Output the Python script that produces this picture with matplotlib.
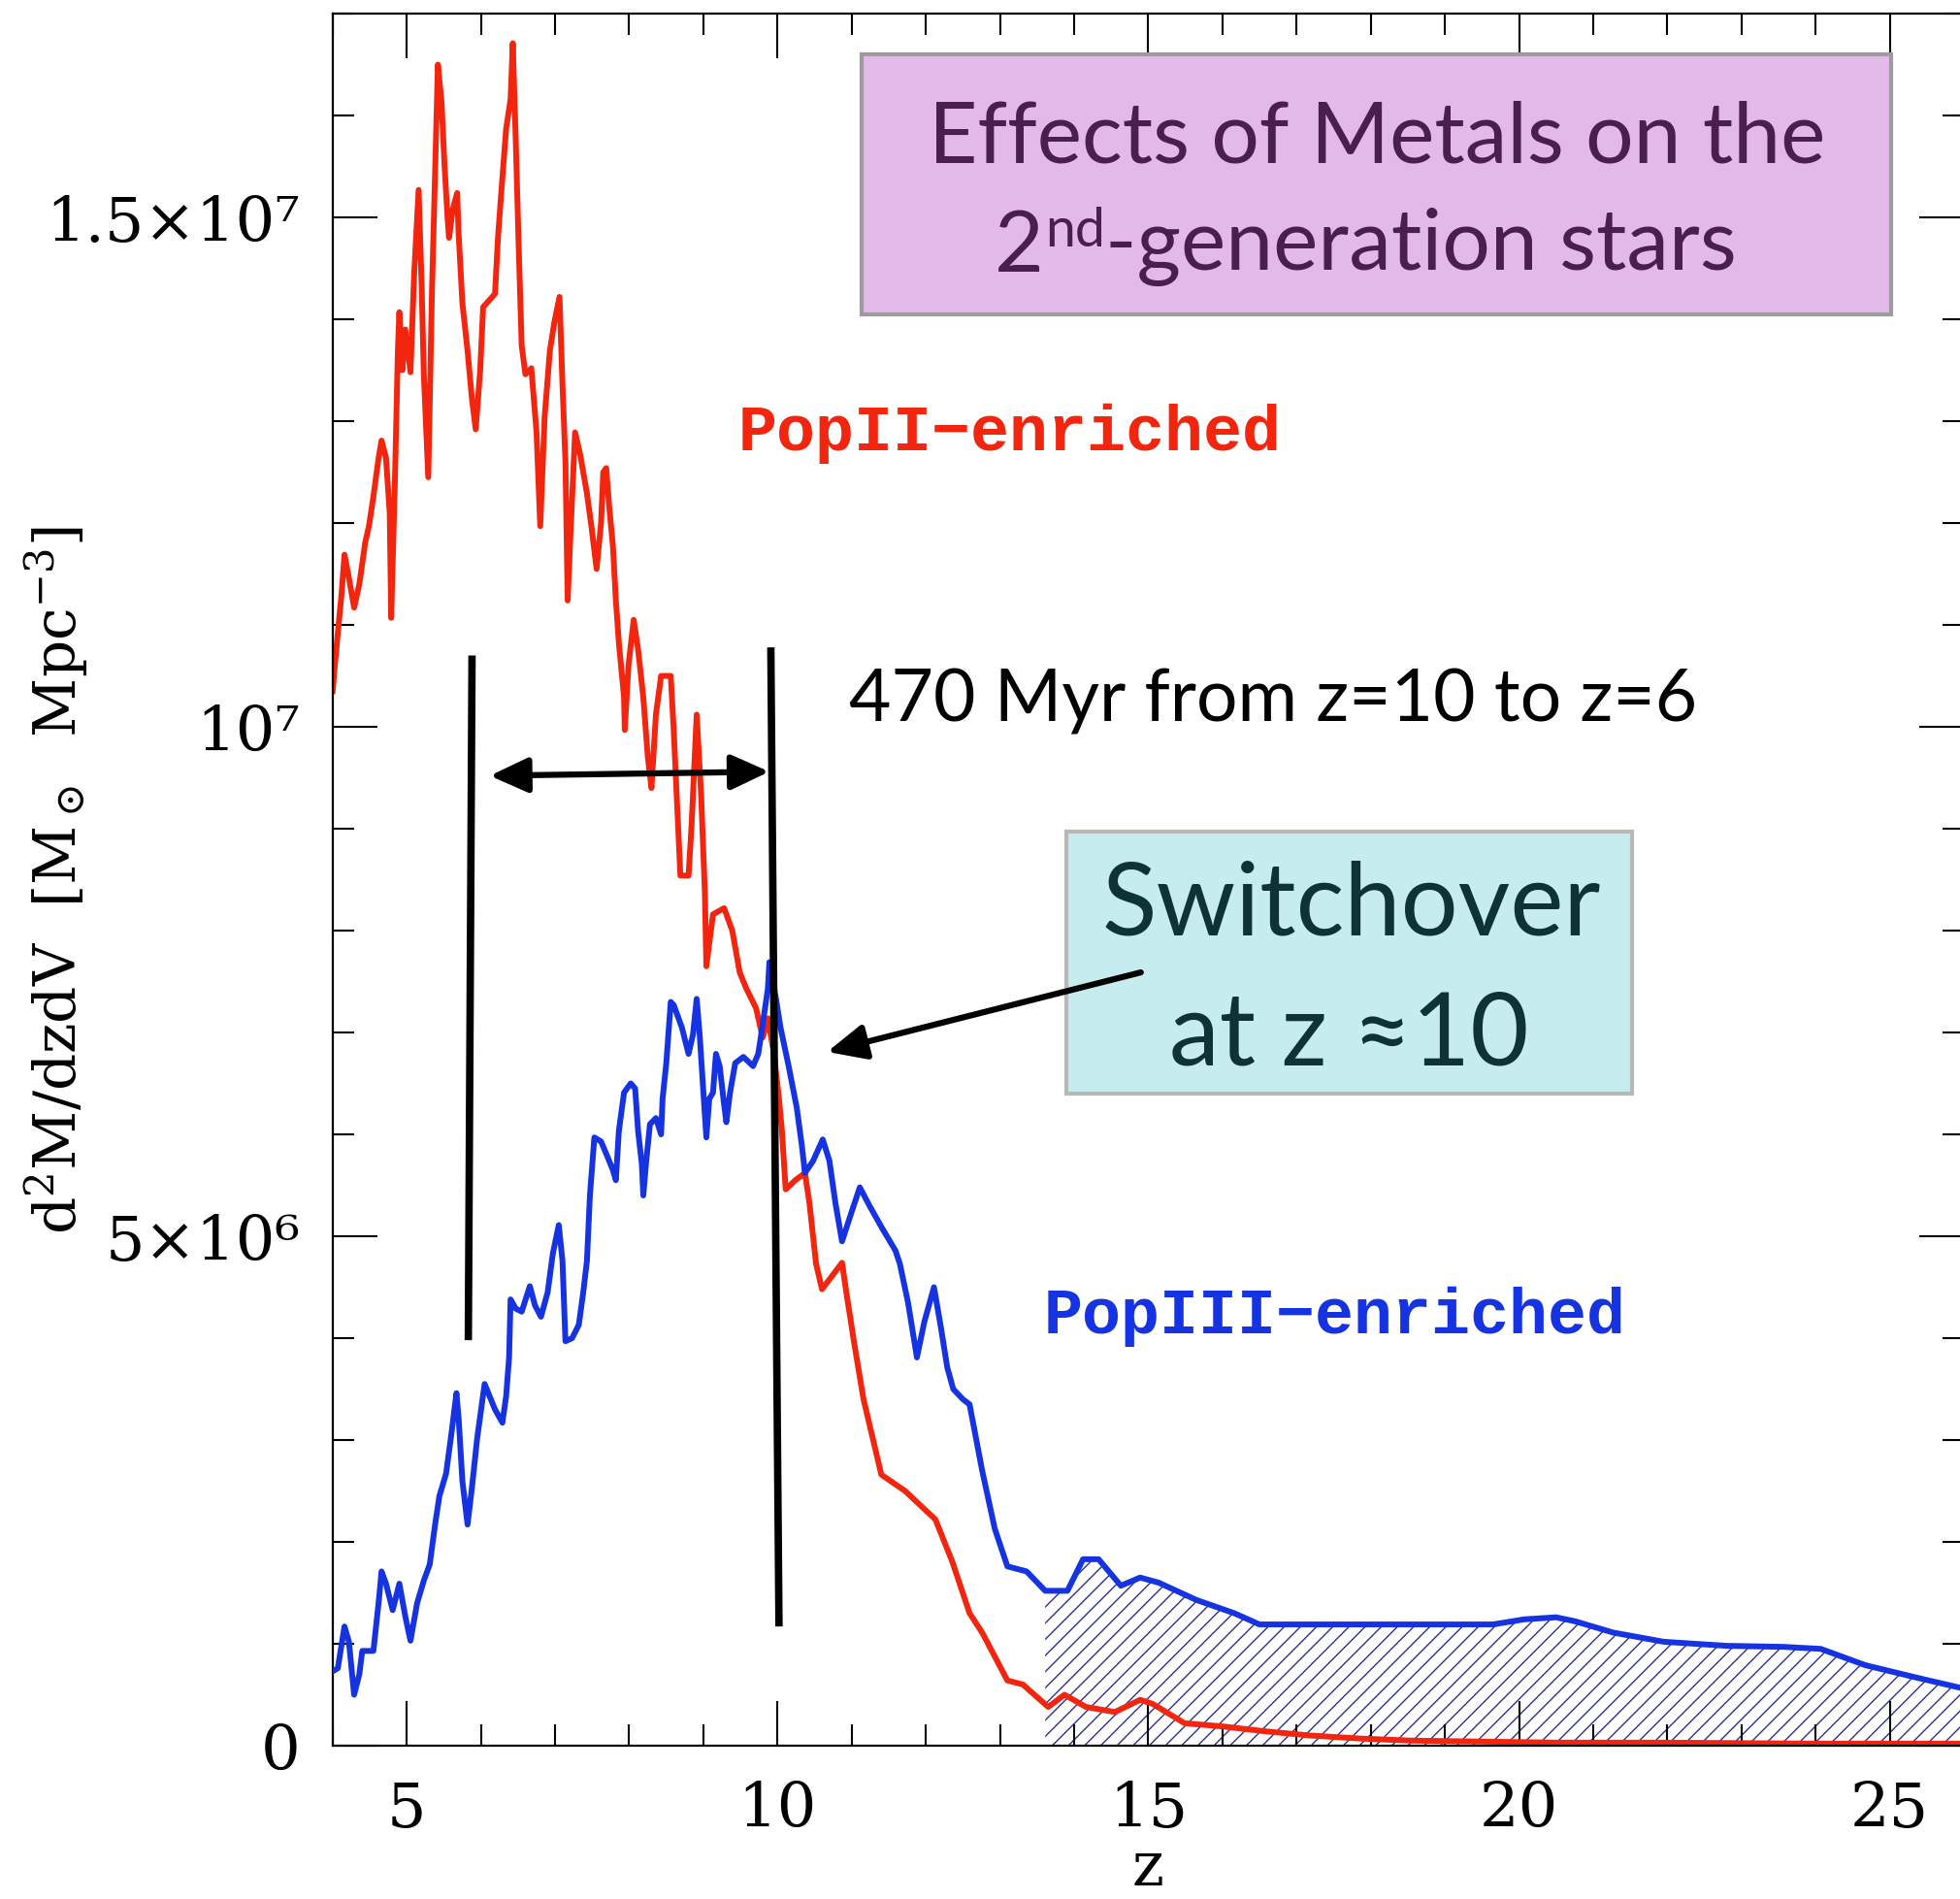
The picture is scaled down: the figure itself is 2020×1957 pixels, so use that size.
import numpy as np
import matplotlib
matplotlib.use("Agg")
import matplotlib.pyplot as plt
from matplotlib.patches import Rectangle
from matplotlib.ticker import FixedLocator, FixedFormatter, MultipleLocator

# star formation rate density per redshift, units of 1e6 Msun/Mpc^3
z_pop2 = [4.00, 4.03, 4.07, 4.12, 4.16, 4.22, 4.29, 4.36, 4.44, 4.49, 4.55, 4.62, 4.66, 4.72,
          4.77, 4.79, 4.84, 4.88, 4.90, 4.94, 4.98, 5.05, 5.10, 5.16, 5.20, 5.23, 5.29, 5.34,
          5.38, 5.42, 5.47, 5.51, 5.55, 5.57, 5.62, 5.68, 5.70, 5.75, 5.82, 5.88, 5.93, 5.99,
          6.03, 6.19, 6.23, 6.27, 6.34, 6.40, 6.43, 6.47, 6.51, 6.55, 6.60, 6.68, 6.75, 6.80,
          6.86, 6.93, 6.99, 7.06, 7.10, 7.14, 7.17, 7.21, 7.27, 7.34, 7.43, 7.49, 7.56, 7.62,
          7.65, 7.69, 7.73, 7.78, 7.82, 7.86, 7.93, 7.94, 7.99, 8.06, 8.12, 8.19, 8.25, 8.30,
          8.36, 8.43, 8.56, 8.60, 8.64, 8.69, 8.80, 8.84, 8.91, 8.97, 9.02, 9.04, 9.13, 9.28,
          9.39, 9.49, 9.58, 9.71, 9.80, 9.87, 9.95, 10.02, 10.06, 10.11, 10.24, 10.37, 10.43,
          10.52, 10.60, 10.87, 10.93, 11.03, 11.16, 11.40, 11.72, 12.13, 12.36, 12.59, 12.76,
          13.10, 13.31, 13.65, 13.87, 14.16, 14.55, 14.89, 15.06, 15.49, 15.99, 16.59, 17.18,
          17.86, 18.54, 19.50, 20.50, 22.00, 24.00, 26.00]
sfr_pop2 = [10.35, 10.60, 10.92, 11.30, 11.69, 11.46, 11.17, 11.40, 11.81, 11.97, 12.26, 12.64,
            12.81, 12.64, 12.10, 11.07, 12.41, 13.69, 14.07, 13.50, 13.90, 13.48, 14.45, 15.27,
            14.35, 13.46, 12.45, 14.28, 15.40, 16.50, 16.12, 15.50, 15.00, 14.80, 15.08, 15.24,
            14.83, 14.16, 13.69, 13.21, 12.92, 13.50, 14.12, 14.25, 14.80, 15.20, 15.87, 16.16,
            16.71, 15.75, 14.70, 13.74, 13.46, 13.52, 12.89, 11.97, 13.05, 13.69, 13.97, 14.22,
            13.36, 12.60, 11.24, 11.93, 12.89, 12.67, 12.29, 11.97, 11.55, 12.00, 12.50, 12.54,
            12.16, 11.78, 11.24, 10.83, 10.29, 9.97, 10.60, 11.05, 10.76, 10.29, 9.71, 9.40,
            10.12, 10.50, 10.50, 9.97, 9.33, 8.54, 8.54, 9.02, 10.12, 9.33, 8.38, 7.65, 8.16,
            8.22, 8.00, 7.59, 7.43, 7.24, 6.95, 7.14, 6.80, 6.35, 6.03, 5.46, 5.55, 5.62, 5.33,
            4.73, 4.48, 4.74, 4.44, 3.97, 3.40, 2.66, 2.50, 2.22, 1.80, 1.30, 1.11, 0.64, 0.60,
            0.38, 0.50, 0.38, 0.33, 0.45, 0.41, 0.22, 0.19, 0.14, 0.10, 0.07, 0.05, 0.04, 0.03,
            0.03, 0.02, 0.02]

z_pop3 = [4.00, 4.07, 4.16, 4.22, 4.29, 4.36, 4.40, 4.55, 4.62, 4.66, 4.72, 4.81, 4.90, 4.98,
          5.05, 5.14, 5.23, 5.31, 5.38, 5.44, 5.53, 5.60, 5.67, 5.70, 5.75, 5.82, 5.88, 5.95,
          6.05, 6.19, 6.29, 6.34, 6.38, 6.40, 6.47, 6.55, 6.66, 6.73, 6.81, 6.90, 6.97, 7.05,
          7.10, 7.14, 7.23, 7.32, 7.38, 7.43, 7.47, 7.53, 7.62, 7.69, 7.78, 7.82, 7.86, 7.93,
          8.02, 8.08, 8.12, 8.17, 8.19, 8.23, 8.28, 8.36, 8.43, 8.45, 8.50, 8.56, 8.60, 8.71,
          8.80, 8.86, 8.91, 8.95, 9.00, 9.04, 9.08, 9.13, 9.17, 9.22, 9.28, 9.31, 9.36, 9.43,
          9.54, 9.67, 9.74, 9.78, 9.87, 9.89, 9.98, 10.04, 10.15, 10.26, 10.33, 10.37, 10.48,
          10.61, 10.70, 10.78, 10.87, 11.00, 11.11, 11.24, 11.41, 11.59, 11.65, 11.76, 11.88,
          11.98, 12.11, 12.20, 12.29, 12.37, 12.50, 12.59, 12.76, 12.93, 13.10, 13.36, 13.61,
          13.91, 14.12, 14.33, 14.63, 14.89, 15.14, 15.65, 16.16, 16.50, 16.84, 19.65, 20.07,
          20.50, 20.76, 21.27, 21.95, 22.80, 23.56, 24.07, 24.67, 25.35, 26.00]
sfr_pop3 = [0.73, 0.76, 1.17, 1.02, 0.50, 0.70, 0.93, 0.93, 1.40, 1.71, 1.59, 1.33, 1.59, 1.27,
            1.03, 1.40, 1.62, 1.78, 2.16, 2.45, 2.67, 3.05, 3.46, 3.21, 2.60, 2.17, 2.54, 3.02,
            3.55, 3.30, 3.17, 3.43, 3.81, 4.38, 4.29, 4.26, 4.51, 4.32, 4.21, 4.45, 4.83, 5.11,
            4.76, 3.97, 4.00, 4.13, 4.45, 4.76, 5.40, 5.97, 5.93, 5.81, 5.65, 5.55, 6.03, 6.41,
            6.50, 6.45, 6.03, 5.71, 5.40, 5.74, 6.10, 6.16, 6.00, 6.35, 6.70, 7.30, 7.27, 7.05,
            6.79, 6.98, 7.33, 6.98, 6.41, 5.97, 6.35, 6.41, 6.79, 6.67, 6.29, 6.12, 6.41, 6.70,
            6.76, 6.67, 6.79, 6.98, 7.43, 7.69, 7.33, 7.05, 6.67, 6.26, 5.88, 5.62, 5.74, 5.95,
            5.74, 5.33, 4.95, 5.24, 5.48, 5.30, 5.08, 4.86, 4.73, 4.35, 3.81, 4.16, 4.50, 4.12,
            3.71, 3.50, 3.40, 3.35, 2.70, 2.13, 1.76, 1.71, 1.52, 1.52, 1.83, 1.83, 1.57, 1.65,
            1.60, 1.43, 1.30, 1.19, 1.19, 1.19, 1.24, 1.26, 1.22, 1.11, 1.02, 0.98, 0.97, 0.95,
            0.79, 0.67, 0.56]

hatch_from_z = 13.6

y_ticks = [0, 5e6, 1e7, 1.5e7]
y_tick_labels = ["0", "5×10⁶", "10⁷", "1.5×10⁷"]
x_ticks = [5, 10, 15, 20, 25]
x_tick_labels = ["5", "10", "15", "20", "25"]

# the 470 Myr window and the switchover pointer (z, value in 1e6)
window_lines = [((5.88, 10.70), (5.83, 3.98)), ((9.91, 10.78), (10.02, 1.17))]
window_arrow = ((6.12, 9.52), (9.89, 9.56))
switch_arrow = ((14.90, 7.59), (10.67, 6.81))

red = "#f2260f"
blue = "#1633e2"
hatch_col = "#2b2f9a"
sans = ["Lato", "DejaVu Sans"]
serif = ["DejaVu Serif"]

plt.rcParams["hatch.linewidth"] = 1.0
plt.rcParams["mathtext.fontset"] = "dejavuserif"

fig = plt.figure(figsize=(20.2, 19.58), dpi=100)
ax = fig.add_axes([0.1697, 0.0807, 0.8323, 0.9116])

z2 = np.array(z_pop2)
s2 = np.array(sfr_pop2) * 1e6
z3 = np.array(z_pop3)
s3 = np.array(sfr_pop3) * 1e6

ax.fill_between(z3, 0, s3, where=z3 >= hatch_from_z, facecolor="none",
                edgecolor=hatch_col, hatch="//", linewidth=0, zorder=1)
ax.plot(z2, s2, color=red, lw=4.3, zorder=2)
ax.plot(z3, s3, color=blue, lw=4.3, zorder=3)

ax.set_xlim(4, 26)
ax.set_ylim(0, 1.7e7)

for sp in ax.spines.values():
    sp.set_linewidth(1.6)

ax.xaxis.set_major_locator(FixedLocator(x_ticks))
ax.xaxis.set_major_formatter(FixedFormatter(x_tick_labels))
ax.xaxis.set_minor_locator(MultipleLocator(1))
ax.yaxis.set_major_locator(FixedLocator(y_ticks))
ax.yaxis.set_major_formatter(FixedFormatter(y_tick_labels))
ax.yaxis.set_minor_locator(MultipleLocator(1e6))
ax.tick_params(which="both", direction="in", top=True, right=True, width=1.5, colors="black")
ax.tick_params(which="major", length=33)
ax.tick_params(which="minor", length=16)
ax.tick_params(axis="x", which="major", pad=25, labelsize=46)
ax.tick_params(axis="y", which="major", pad=24, labelsize=46)
for lab in ax.get_xticklabels() + ax.get_yticklabels():
    lab.set_family(serif)

ax.text(0.5, -0.0874, "z", transform=ax.transAxes, ha="center", va="bottom",
        fontsize=45, family=serif)
ax.text(-0.1694, 0.5, r"d$^2$M/dzdV  [M$_\odot$  Mpc$^{-3}$]", transform=ax.transAxes,
        rotation=90, ha="center", va="center", fontsize=43, family=serif)

# vertical markers and arrows
for (xa, ya), (xb, yb) in window_lines:
    ax.plot([xa, xb], [ya * 1e6, yb * 1e6], color="black", lw=5.5, zorder=5,
            solid_capstyle="butt")
(xa, ya), (xb, yb) = window_arrow
ax.annotate("", xy=(xb, yb * 1e6), xytext=(xa, ya * 1e6),
            arrowprops=dict(arrowstyle="<|-|>,head_length=1.2,head_width=0.55", lw=4.5,
                            color="black", mutation_scale=20, shrinkA=0, shrinkB=0),
            zorder=6)
(xa, ya), (xb, yb) = switch_arrow
ax.annotate("", xy=(xb, yb * 1e6), xytext=(xa, ya * 1e6),
            arrowprops=dict(arrowstyle="-|>,head_length=1.2,head_width=0.55", lw=4.5,
                            color="black", mutation_scale=20, shrinkA=0, shrinkB=0),
            zorder=8)

ax.text(10.97, 10.067e6, "470 Myr from z=10 to z=6", fontsize=54, family=sans,
        ha="left", va="baseline", color="black", zorder=6)

ax.text(13.13, 12.89e6, "PopII−enriched", color=red, fontsize=48, fontweight="bold",
        family=["Liberation Mono", "DejaVu Sans Mono"], ha="center", va="center", zorder=6)
ax.text(17.51, 4.22e6, "PopIII−enriched", color=blue, fontsize=48, fontweight="bold",
        family=["Liberation Mono", "DejaVu Sans Mono"], ha="center", va="center", zorder=6)

# title box
ax.add_patch(Rectangle((11.14, 14.05e6), 25.02 - 11.14, 16.60e6 - 14.05e6,
                       facecolor="#e2b9e8", edgecolor="#9c9c9c", lw=3, zorder=7))
title_col = "#4a1e4e"
ax.text(18.08, 15.552e6, "Effects of Metals on the", color=title_col, fontsize=63,
        family=sans, ha="center", va="baseline", zorder=8)
t1 = ax.text(12.92, 14.476e6, "2", color=title_col, fontsize=63, family=sans,
             ha="left", va="baseline", zorder=8)
t2 = ax.annotate("nd", xy=(1, 1), xycoords=t1, xytext=(1, 2), textcoords="offset points",
                 color=title_col, fontsize=40, family=sans, ha="left", va="top", zorder=8)
ax.annotate("-generation stars", xy=(1, 0), xycoords=(t2, t1), color=title_col,
            fontsize=63, family=sans, ha="left", va="bottom", zorder=8)

# switchover box
ax.add_patch(Rectangle((13.90, 6.40e6), 21.52 - 13.90, 8.971e6 - 6.40e6,
                       facecolor="#c6ecef", edgecolor="#b8b8b8", lw=3, zorder=7))
box_col = "#0e3236"
ax.text(17.74, 7.971e6, "Switchover", color=box_col, fontsize=75, family=sans,
        ha="center", va="baseline", zorder=8)
ax.text(17.71, 6.686e6, "at z ≈10", color=box_col, fontsize=75, family=sans,
        ha="center", va="baseline", zorder=8)

fig.savefig("out.png", dpi=100, facecolor="white")
